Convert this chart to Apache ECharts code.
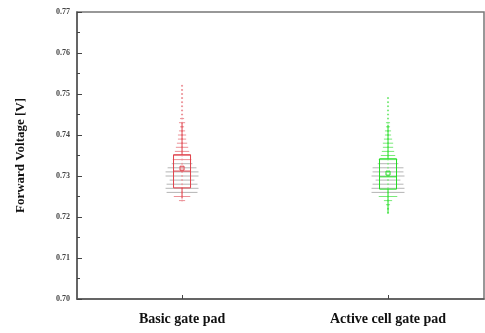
<!DOCTYPE html>
<html><head><meta charset="utf-8">
<script src="https://cdn.jsdelivr.net/npm/echarts@6/dist/echarts.min.js"></script>
<style>html,body{margin:0;padding:0;background:#fff}#c{width:485px;height:333px}</style>
</head><body><div id="c"></div>
<script>
var categories = ['Basic gate pad', 'Active cell gate pad'];
var yTicks = [0.70, 0.71, 0.72, 0.73, 0.74, 0.75, 0.76, 0.77];
// box statistics [lower whisker, Q1, median, Q3, upper whisker]
var basicBox = [0.7245, 0.7271, 0.7312, 0.7352, 0.7430];
var activeBox = [0.7210, 0.7268, 0.7298, 0.7342, 0.7425];
var basicMean = 0.7319;
var activeMean = 0.7307;
// measured values (V) and how many devices share each value
var basicValues = [0.752,0.751,0.750,0.749,0.748,0.747,0.746,0.745,0.744,0.743,0.742,0.741,0.740,0.739,0.738,0.737,0.736,0.735,0.734,0.733,0.732,0.731,0.730,0.729,0.728,0.727,0.726,0.725,0.724];
var basicCounts = [1,1,1,1,1,1,1,1,2,3,2,3,4,4,5,6,7,8,9,10,14,16,16,12,15,16,15,8,3];
var activeValues = [0.749,0.748,0.747,0.746,0.745,0.744,0.743,0.742,0.741,0.740,0.739,0.738,0.737,0.736,0.735,0.734,0.733,0.732,0.731,0.730,0.729,0.728,0.727,0.726,0.725,0.724,0.723,0.722,0.721];
var activeCounts = [1,1,1,1,1,1,2,2,3,3,4,5,5,6,7,9,10,15,15,16,12,15,16,16,9,4,2,1,1];

var boxColors = ['#e0404a', '#22dd22'];
var pointColors = ['#ec9298', '#7aea7a'];
var catPos = [1, 2];
var maxCount = 16;

var chart = echarts.init(document.getElementById('c'));
var fontSerif = '"Liberation Serif", "DejaVu Serif", serif';

function binsSeries(idx, values, counts) {
  return {
    type: 'custom', z: 2,
    data: values.map(function (v, i) { return [catPos[idx], v, counts[i]]; }),
    renderItem: function (params, api) {
      var c = api.coord([api.value(0), api.value(1)]);
      var unit = api.size([1, 0])[0];
      var n = api.value(2);
      var half = unit * 0.08 * n / maxCount;
      var col = n >= 10 ? 'rgba(150,150,150,0.7)' : pointColors[idx];
      return {
        type: 'line',
        shape: { x1: c[0] - half, y1: c[1], x2: c[0] + half, y2: c[1] },
        style: { stroke: col, lineWidth: 1 }
      };
    }
  };
}

function boxSeries(idx, box, mean) {
  return {
    type: 'custom', z: 4,
    data: [[catPos[idx]].concat(box).concat([mean])],
    renderItem: function (params, api) {
      var x = catPos[idx];
      var p = [1, 2, 3, 4, 5, 6].map(function (k) { return api.coord([x, api.value(k)]); });
      var cx = p[0][0], hw = 8.5;
      var col = boxColors[idx];
      var st = { stroke: col, lineWidth: 1, fill: null };
      return {
        type: 'group',
        children: [
          { type: 'line', shape: { x1: cx, y1: p[0][1], x2: cx, y2: p[1][1] }, style: st },
          { type: 'line', shape: { x1: cx, y1: p[3][1], x2: cx, y2: p[4][1] }, style: st },
          { type: 'rect', shape: { x: cx - hw, y: p[3][1], width: 2 * hw, height: p[1][1] - p[3][1] }, style: st },
          { type: 'line', shape: { x1: cx - hw, y1: p[2][1], x2: cx + hw, y2: p[2][1] }, style: st },
          { type: 'rect', shape: { x: cx - 2, y: p[5][1] - 2, width: 4, height: 4 }, style: st }
        ]
      };
    }
  };
}

chart.setOption({
  animation: false,
  grid: { left: 77, right: 1, top: 12, bottom: 34, show: true, borderColor: '#777', borderWidth: 1.5, backgroundColor: 'transparent' },
  xAxis: {
    type: 'value',
    min: 0.49, max: 2.466,
    splitLine: { show: false },
    axisLine: { lineStyle: { color: '#555', width: 1.5 } },
    axisTick: { show: true, inside: true, length: 4, customValues: catPos, lineStyle: { color: '#444' } },
    axisLabel: {
      customValues: catPos,
      fontFamily: fontSerif, fontWeight: 'bold', fontSize: 14, color: '#111', margin: 13,
      formatter: function (v) { return categories[Math.round(v) - 1] || ''; }
    }
  },
  yAxis: {
    type: 'value',
    min: 0.70, max: 0.77, interval: 0.01,
    name: 'Forward Voltage [V]',
    nameLocation: 'middle',
    nameGap: 50,
    nameTextStyle: { fontFamily: fontSerif, fontWeight: 'bold', fontSize: 13, color: '#111' },
    axisLine: { show: true, lineStyle: { color: '#555', width: 1.5 } },
    axisTick: { show: true, inside: true, length: 5, lineStyle: { color: '#444' } },
    minorTick: { show: true, splitNumber: 2, length: 3, lineStyle: { color: '#444' } },
    splitLine: { show: false },
    axisLabel: {
      fontFamily: fontSerif, fontWeight: 'bold', fontSize: 8, color: '#444', margin: 7,
      formatter: function (v) {
        var t = yTicks.filter(function (x) { return Math.abs(x - v) < 1e-6; });
        return t.length ? t[0].toFixed(2) : '';
      }
    }
  },
  series: [
    binsSeries(0, basicValues, basicCounts),
    binsSeries(1, activeValues, activeCounts),
    {
      type: 'scatter', z: 3, symbol: 'circle', symbolSize: 2,
      data: basicValues.map(function (v) { return [catPos[0], v]; }),
      itemStyle: { color: pointColors[0] }
    },
    {
      type: 'scatter', z: 3, symbol: 'circle', symbolSize: 2,
      data: activeValues.map(function (v) { return [catPos[1], v]; }),
      itemStyle: { color: pointColors[1] }
    },
    boxSeries(0, basicBox, basicMean),
    boxSeries(1, activeBox, activeMean)
  ]
});
</script></body></html>
